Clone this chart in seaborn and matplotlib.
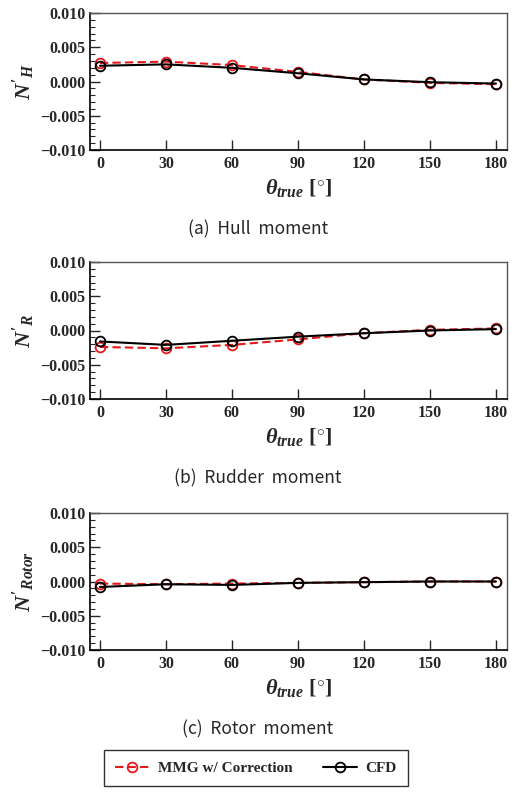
import numpy as np
import pandas as pd
import matplotlib
matplotlib.use("Agg")
import matplotlib.pyplot as plt
import seaborn as sns
from matplotlib.ticker import MultipleLocator, FuncFormatter

# data
theta = [0, 30, 60, 90, 120, 150, 180]

hull_mmg = [0.0027, 0.0029, 0.0024, 0.0014, 0.0003, -0.0002, -0.0004]
hull_cfd = [0.0023, 0.0025, 0.0020, 0.0012, 0.0003, -0.0001, -0.0003]

rudder_mmg = [-0.0024, -0.0026, -0.0021, -0.0013, -0.0004, 0.0001, 0.0003]
rudder_cfd = [-0.0016, -0.0021, -0.0015, -0.0009, -0.0004, 0.0000, 0.0002]

rotor_mmg = [-0.0003, -0.0004, -0.0003, -0.0002, -0.0001, 0.0000, 0.0000]
rotor_cfd = [-0.0008, -0.0004, -0.0005, -0.0002, -0.0001, 0.0000, 0.0000]

ylabels = [r"$N'_{H}$", r"$N'_{R}$", r"$N'_{Rotor}$"]
captions = ["(a)  Hull  moment", "(b)  Rudder  moment", "(c)  Rotor  moment"]
series_names = ["MMG w/ Correction", "CFD"]

sns.set_style("ticks")
plt.rcParams["font.family"] = ["Liberation Serif", "DejaVu Serif"]
plt.rcParams["font.weight"] = "bold"
plt.rcParams["mathtext.fontset"] = "custom"
plt.rcParams["mathtext.it"] = "Liberation Serif:bold:italic"
plt.rcParams["mathtext.rm"] = "Liberation Serif:bold"
plt.rcParams["mathtext.bf"] = "Liberation Serif:bold"
plt.rcParams["xtick.direction"] = "in"
plt.rcParams["ytick.direction"] = "in"

fig = plt.figure(figsize=(5.16, 7.92), dpi=100)

panels = [
    (hull_mmg, hull_cfd, 1 - 150 / 792),
    (rudder_mmg, rudder_cfd, 1 - 399 / 792),
    (rotor_mmg, rotor_cfd, 1 - 650 / 792),
]

fmt = FuncFormatter(lambda v, p: f"{v:.3f}".replace("-", "\u2212"))

handles = []
for i, (mmg, cfd, bottom) in enumerate(panels):
    ax = fig.add_axes([90 / 516, bottom, 417 / 516, 137 / 792])
    df = pd.DataFrame({"theta": theta, "mmg": mmg, "cfd": cfd})
    sns.lineplot(data=df, x="theta", y="mmg", ax=ax, color="#e41a1c",
                 linestyle=(0, (4, 2)), linewidth=1.5, marker="o", markersize=7,
                 markerfacecolor="none", markeredgecolor="#e41a1c",
                 markeredgewidth=1.3, label=series_names[0], legend=False)
    sns.lineplot(data=df, x="theta", y="cfd", ax=ax, color="black",
                 linewidth=1.5, marker="o", markersize=7,
                 markerfacecolor="none", markeredgecolor="black",
                 markeredgewidth=1.3, label=series_names[1], legend=False)
    if i == 0:
        handles = ax.get_lines()[:2]

    ax.set_xlim(-4.5, 185)
    ax.set_ylim(-0.010, 0.010)
    ax.set_xticks(theta)
    ax.yaxis.set_major_locator(MultipleLocator(0.005))
    ax.yaxis.set_minor_locator(MultipleLocator(0.001))
    ax.yaxis.set_major_formatter(fmt)
    ax.tick_params(axis="both", which="major", labelsize=11.5, length=7, width=1)
    ax.tick_params(axis="y", which="minor", length=3.5, width=0.8)
    ax.tick_params(axis="x", pad=4)
    for lab in ax.get_xticklabels() + ax.get_yticklabels():
        lab.set_fontweight("bold")
    for s in ["left", "bottom"]:
        ax.spines[s].set_color("black")
        ax.spines[s].set_linewidth(1.2)
    for s in ["top", "right"]:
        ax.spines[s].set_color("#555555")
        ax.spines[s].set_linewidth(1.0)

    ax.set_xlabel(r"$\theta_{true}\ [^{\circ}]$", fontsize=16, labelpad=4)
    ax.set_ylabel(ylabels[i], fontsize=16, labelpad=2)

    cap_y = bottom - 79 / 792
    fig.text(0.5, cap_y, captions[i], ha="center", va="center", fontsize=12.5,
             family=["Noto Sans CJK KR", "DejaVu Sans"], fontweight="light")

leg = fig.legend(handles, series_names, loc="center", bbox_to_anchor=(256 / 516, 1 - 768 / 792),
                 ncol=2, frameon=True, fancybox=False, edgecolor="black",
                 prop={"family": "Liberation Serif", "weight": "bold", "size": 11},
                 handlelength=2.2, handletextpad=0.6, columnspacing=2.0,
                 borderpad=0.7)
leg.get_frame().set_linewidth(1.0)

fig.savefig("out.png", dpi=100)
